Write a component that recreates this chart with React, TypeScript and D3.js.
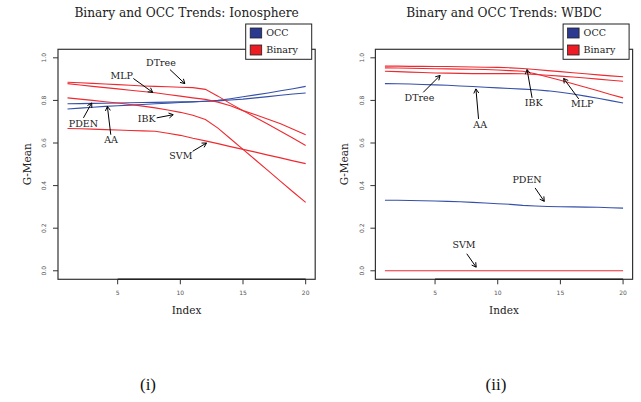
import * as d3 from 'd3';
import React from 'react';

// index on the x axis
const idx = [1, 2, 3, 4, 5, 6, 7, 8, 9, 10, 11, 12, 13, 14, 15, 16, 17, 18, 19, 20];
const xTicks = [5, 10, 15, 20];
const yTicks = [0, 0.2, 0.4, 0.6, 0.8, 1.0];

// Ionosphere
const ionoPDEN = [0.784, 0.785, 0.786, 0.787, 0.788, 0.789, 0.79, 0.791, 0.792, 0.793, 0.794, 0.796, 0.798, 0.802, 0.806, 0.812, 0.818, 0.824, 0.83, 0.835];
const ionoAA = [0.76, 0.764, 0.768, 0.772, 0.775, 0.778, 0.781, 0.784, 0.787, 0.79, 0.793, 0.796, 0.8, 0.808, 0.817, 0.826, 0.835, 0.845, 0.855, 0.866];
const ionoDTree = [0.885, 0.883, 0.88, 0.877, 0.874, 0.871, 0.868, 0.866, 0.864, 0.862, 0.86, 0.852, 0.82, 0.785, 0.752, 0.72, 0.688, 0.655, 0.622, 0.588];
const ionoMLP = [0.879, 0.872, 0.866, 0.86, 0.854, 0.848, 0.842, 0.836, 0.828, 0.82, 0.812, 0.805, 0.792, 0.775, 0.752, 0.733, 0.712, 0.69, 0.665, 0.639];
const ionoIBK = [0.812, 0.806, 0.8, 0.794, 0.788, 0.781, 0.773, 0.765, 0.755, 0.744, 0.73, 0.71, 0.67, 0.62, 0.57, 0.52, 0.47, 0.42, 0.37, 0.321];
const ionoSVM = [0.668, 0.667, 0.665, 0.663, 0.661, 0.659, 0.657, 0.655, 0.646, 0.636, 0.622, 0.61, 0.597, 0.583, 0.57, 0.557, 0.543, 0.53, 0.516, 0.503];

// WBDC
const wbdcPDEN = [0.331, 0.331, 0.33, 0.329, 0.328, 0.326, 0.324, 0.321, 0.318, 0.315, 0.312, 0.307, 0.304, 0.302, 0.301, 0.3, 0.299, 0.298, 0.296, 0.294];
const wbdcAA = [0.879, 0.878, 0.877, 0.875, 0.873, 0.871, 0.868, 0.865, 0.862, 0.859, 0.856, 0.853, 0.85, 0.845, 0.838, 0.83, 0.82, 0.81, 0.799, 0.788];
const wbdcIBK = [0.961, 0.961, 0.96, 0.96, 0.959, 0.959, 0.958, 0.957, 0.956, 0.955, 0.953, 0.95, 0.945, 0.94, 0.935, 0.93, 0.925, 0.92, 0.915, 0.911];
const wbdcMLP = [0.953, 0.952, 0.951, 0.95, 0.949, 0.948, 0.947, 0.946, 0.945, 0.943, 0.94, 0.937, 0.925, 0.91, 0.895, 0.878, 0.862, 0.845, 0.828, 0.812];
const wbdcDTree = [0.937, 0.935, 0.933, 0.931, 0.929, 0.928, 0.927, 0.926, 0.926, 0.926, 0.926, 0.925, 0.922, 0.918, 0.914, 0.91, 0.905, 0.9, 0.895, 0.89];
const wbdcSVM = [0, 0, 0, 0, 0, 0, 0, 0, 0, 0, 0, 0, 0, 0, 0, 0, 0, 0, 0, 0];

const OCC = '#3550a8';
const BIN = '#ee2a30';

// labels with arrows, in data units: [name, textX, textY, fromX, fromY, toX, toY]
const ionoNotes: [string, number, number, number, number, number, number][] = [
  ['DTree', 8.45, 0.977, 9.17, 0.945, 10.36, 0.879],
  ['MLP', 5.32, 0.917, 6.25, 0.903, 7.79, 0.838],
  ['PDEN', 2.27, 0.69, 2.27, 0.718, 2.93, 0.788],
  ['AA', 4.47, 0.616, 4.45, 0.639, 4.18, 0.772],
  ['IBK', 7.31, 0.715, 8.11, 0.718, 9.43, 0.733],
  ['SVM', 10.04, 0.542, 10.98, 0.561, 12.09, 0.6],
];
const wbdcNotes: [string, number, number, number, number, number, number][] = [
  ['DTree', 3.75, 0.815, 4.06, 0.838, 5.4, 0.917],
  ['AA', 8.6, 0.686, 8.47, 0.713, 8.26, 0.854],
  ['IBK', 12.86, 0.788, 12.74, 0.812, 12.34, 0.945],
  ['MLP', 16.74, 0.784, 16.46, 0.807, 15.26, 0.903],
  ['PDEN', 12.34, 0.428, 12.98, 0.389, 13.71, 0.326],
  ['SVM', 7.31, 0.122, 7.53, 0.08, 8.28, 0.017],
];

const serif = '"DejaVu Serif", serif';

function Panel({ left, title, occ, bin, notes }) {
  const top = 49.3, bottom = 279.3, w = 257.2;
  const x = d3.scaleLinear().domain([0.24, 20.76]).range([left, left + w]);
  const y = d3.scaleLinear().domain([-0.04, 1.04]).range([bottom, top]);
  const line = d3.line<number>().x((d, i) => x(idx[i])).y(d => y(d));

  const arrow = (n, i) => {
    const [name, tx, ty, fx, fy, ex, ey] = n;
    const x1 = x(fx), y1 = y(fy), x2 = x(ex), y2 = y(ey);
    const a = Math.atan2(y2 - y1, x2 - x1);
    const L = 5;
    const h1 = [x2 - L * Math.cos(a - Math.PI / 6), y2 - L * Math.sin(a - Math.PI / 6)];
    const h2 = [x2 - L * Math.cos(a + Math.PI / 6), y2 - L * Math.sin(a + Math.PI / 6)];
    return (
      <g key={i}>
        <text x={x(tx)} y={y(ty)} dy="0.35em" textAnchor="middle" fontSize={9.5} fontFamily={serif} fill="#222">{name}</text>
        <line x1={x1} y1={y1} x2={x2} y2={y2} stroke="#000" strokeWidth={1} />
        <path d={`M${h1[0]},${h1[1]}L${x2},${y2}L${h2[0]},${h2[1]}`} fill="none" stroke="#000" strokeWidth={1} />
      </g>
    );
  };

  const lx = left + 187.7, ly = 24;
  return (
    <g>
      <text x={left + w / 2} y={17} textAnchor="middle" fontSize={12.2} fontFamily={serif} fill="#222">{title}</text>
      {occ.map((s, i) => <path key={'o' + i} d={line(s)} fill="none" stroke={OCC} strokeWidth={1.1} />)}
      {bin.map((s, i) => <path key={'b' + i} d={line(s)} fill="none" stroke={BIN} strokeWidth={1.1} />)}
      <rect x={left} y={top} width={w} height={bottom - top} fill="none" stroke="#333" strokeWidth={1.2} />
      {yTicks.map(t => (
        <g key={t}>
          <line x1={left - 5} x2={left} y1={y(t)} y2={y(t)} stroke="#333" />
          <text transform={`translate(${left - 14},${y(t)}) rotate(-90)`} textAnchor="middle" dy="0.35em" fontSize={6} fontFamily={'"DejaVu Sans", sans-serif'} fill="#555">{t.toFixed(1)}</text>
        </g>
      ))}
      {xTicks.map(t => (
        <g key={t}>
          <line x1={x(t)} x2={x(t)} y1={bottom} y2={bottom + 5} stroke="#333" />
          <text x={x(t)} y={bottom + 14} textAnchor="middle" dy="0.35em" fontSize={6} fontFamily={'"DejaVu Sans", sans-serif'} fill="#555">{t}</text>
        </g>
      ))}
      <line x1={x(5)} x2={x(20)} y1={bottom} y2={bottom} stroke="#222" strokeWidth={1.5} />
      <text x={left + w / 2} y={314} textAnchor="middle" fontSize={10.5} fontFamily={serif} fill="#222">Index</text>
      <text transform={`translate(${left - 27},${(top + bottom) / 2}) rotate(-90)`} textAnchor="middle" fontSize={10.5} fontFamily={serif} fill="#222">G-Mean</text>
      {notes.map(arrow)}
      <rect x={lx} y={ly} width={66} height={35.3} fill="#fff" stroke="#222" strokeWidth={1} />
      <rect x={lx + 4.5} y={ly + 4} width={11.5} height={10} fill="#2b3990" stroke="#222" strokeWidth={0.8} />
      <rect x={lx + 4.5} y={ly + 21} width={11.5} height={10} fill="#ed1c24" stroke="#222" strokeWidth={0.8} />
      <text x={lx + 20.5} y={ly + 9} dy="0.35em" fontSize={9.5} fontFamily={serif} fill="#222">OCC</text>
      <text x={lx + 20.5} y={ly + 26} dy="0.35em" fontSize={9.5} fontFamily={serif} fill="#222">Binary</text>
    </g>
  );
}

export default function App() {
  return (
    <svg width={641} height={402} style={{ position: 'absolute', left: 0, top: 0, background: '#fff' }}>
      <Panel left={58} title="Binary and OCC Trends: Ionosphere"
        occ={[ionoPDEN, ionoAA]} bin={[ionoDTree, ionoMLP, ionoIBK, ionoSVM]} notes={ionoNotes} />
      <Panel left={375.4} title="Binary and OCC Trends: WBDC"
        occ={[wbdcPDEN, wbdcAA]} bin={[wbdcIBK, wbdcMLP, wbdcDTree, wbdcSVM]} notes={wbdcNotes} />
      <text x={148} y={390} textAnchor="middle" fontSize={17} fontFamily={'"Liberation Serif", serif'} fill="#111">(i)</text>
      <text x={496} y={390} textAnchor="middle" fontSize={17} fontFamily={'"Liberation Serif", serif'} fill="#111">(ii)</text>
    </svg>
  );
}
